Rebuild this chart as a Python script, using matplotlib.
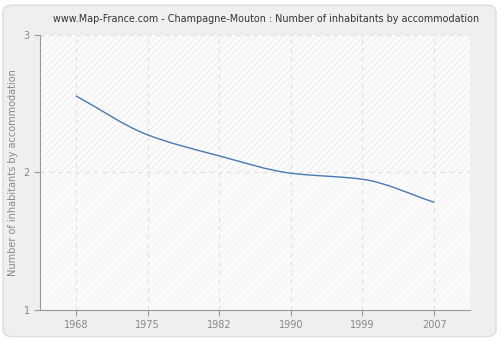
import numpy as np
import matplotlib
matplotlib.use('Agg')
import matplotlib.pyplot as plt
from matplotlib.path import Path
from matplotlib.patches import PathPatch, FancyBboxPatch

years = ['1968', '1975', '1982', '1990', '1999', '2007']
values = [2.556, 2.273, 2.12, 1.994, 1.95, 1.783]
y_ticks = [1, 2, 3]

title = 'www.Map-France.com - Champagne-Mouton : Number of inhabitants by accommodation'
ylabel = 'Number of inhabitants by accommodation'


def smooth_path(x, y):
    # monotone cubic (Fritsch-Carlson) drawn as bezier segments
    x = np.asarray(x, float)
    y = np.asarray(y, float)
    h = np.diff(x)
    d = np.diff(y) / h
    m = np.zeros_like(y)
    m[0], m[-1] = d[0], d[-1]
    for i in range(1, len(y) - 1):
        if d[i - 1] * d[i] > 0:
            w1 = 2 * h[i] + h[i - 1]
            w2 = h[i] + 2 * h[i - 1]
            m[i] = (w1 + w2) / (w1 / d[i - 1] + w2 / d[i])
    verts = [(x[0], y[0])]
    codes = [Path.MOVETO]
    for i in range(len(x) - 1):
        verts += [(x[i] + h[i] / 3, y[i] + m[i] * h[i] / 3),
                  (x[i + 1] - h[i] / 3, y[i + 1] - m[i + 1] * h[i] / 3),
                  (x[i + 1], y[i + 1])]
        codes += [Path.CURVE4] * 3
    return Path(verts, codes)


plt.rcParams['hatch.linewidth'] = 0.5
fig = plt.figure(figsize=(5.0, 3.4), dpi=100, facecolor='white')
fig.patches.append(FancyBboxPatch((0.006, 0.01), 0.986, 0.975, boxstyle='round,pad=0,rounding_size=0.02',
                                  transform=fig.transFigure, facecolor='#efefef', edgecolor='#dddddd',
                                  linewidth=1, zorder=-5))

ax = fig.add_axes([0.08, 0.088, 0.86, 0.81])
ax.set_zorder(1)
ax.set_facecolor('#fbfbfb')
x = np.arange(len(years))

ax.axhspan(2, 3, facecolor='none', edgecolor='#e8e8e8', hatch='/////', linewidth=0, zorder=0)
ax.axhspan(1, 2, facecolor='none', edgecolor='#f1f1f1', hatch='/////', linewidth=0, zorder=0)

ax.add_patch(PathPatch(smooth_path(x, values), fill=False, edgecolor='#4a78b0', linewidth=1.0, zorder=3))

ax.set_xlim(-0.5, 5.5)
ax.set_ylim(1, 3)
ax.set_xticks(x)
ax.set_xticklabels(years)
ax.set_yticks(y_ticks)
ax.grid(True, color='#e0e0e0', linestyle=(0, (4, 4)), linewidth=0.8)
ax.set_axisbelow(True)

for s in ['top', 'right']:
    ax.spines[s].set_visible(False)
for s in ['left', 'bottom']:
    ax.spines[s].set_color('#999999')
ax.tick_params(colors='#999999', labelcolor='#888888', labelsize=7, length=4, width=0.8)

ax.set_ylabel(ylabel, color='#888888', fontsize=7)
fig.text(0.533, 0.945, title, ha='center', va='center', fontsize=6.9, color='#333333')

plt.savefig('out.png', dpi=100, facecolor=fig.get_facecolor())
